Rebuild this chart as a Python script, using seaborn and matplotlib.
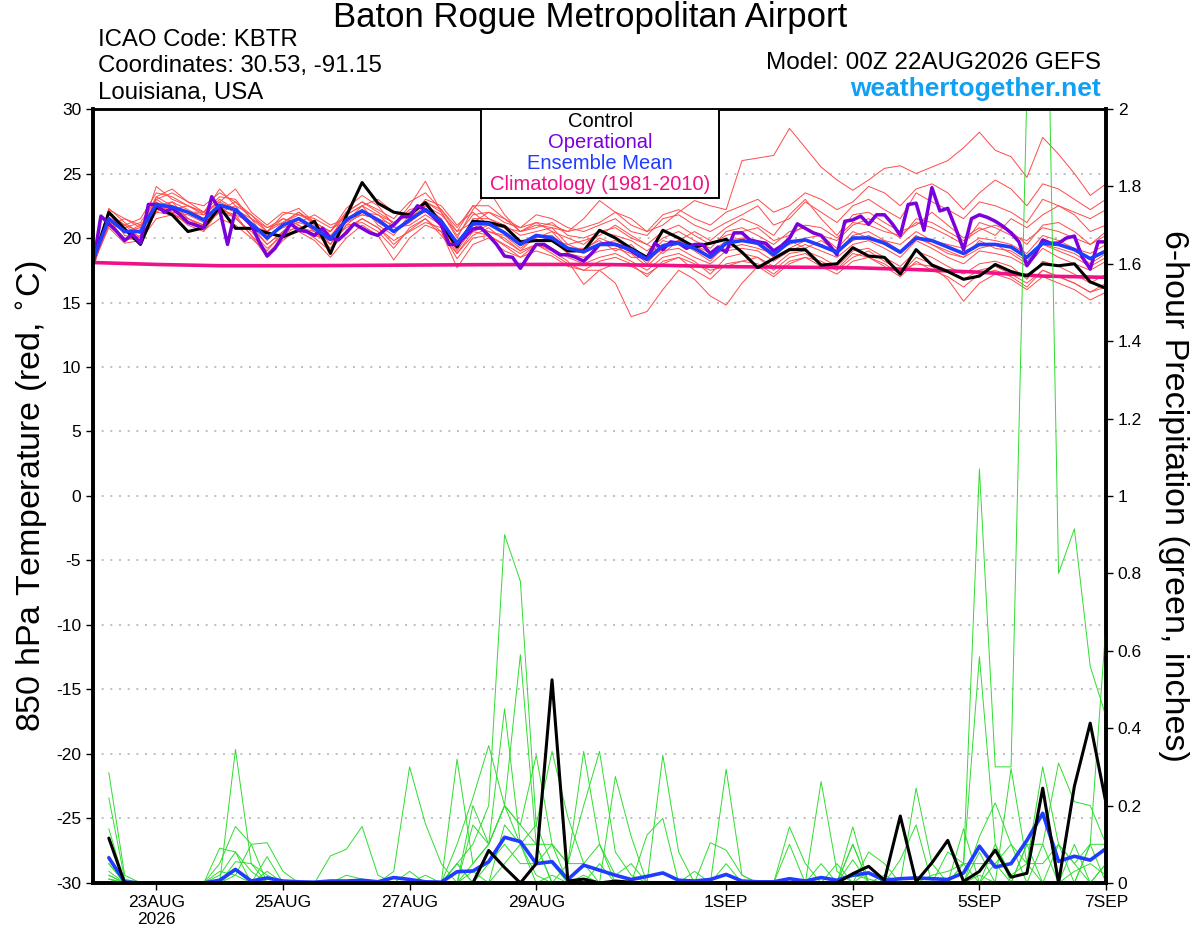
import numpy as np
import pandas as pd
import seaborn as sns
import matplotlib.pyplot as plt
from matplotlib.patches import Rectangle

sns.set_style('ticks')
plt.rcParams['font.family'] = ['Liberation Sans', 'DejaVu Sans']
plt.rcParams['axes.unicode_minus'] = False
for key in ('text.color', 'axes.labelcolor', 'xtick.color', 'ytick.color'):
    plt.rcParams[key] = 'black'

# time axes (6-hourly GEFS, 3-hourly operational, daily climatology)
times = pd.date_range('2026-08-22 00:00', periods=65, freq='6h')
times_op = pd.date_range('2026-08-22 00:00', periods=129, freq='3h')
days = pd.date_range('2026-08-22', periods=17, freq='D')

# 850 hPa temperature (C)
control_t = [18.2, 22.0, 20.7, 19.5, 22.4, 21.8, 20.5, 20.8, 22.4, 20.75,
             20.75, 20.4, 20.1, 20.6, 21.3, 18.8, 21.7, 24.3, 22.7, 22.0,
             21.8, 22.75, 21.1, 19.3, 21.3, 21.2, 20.9, 19.7, 19.8, 19.8,
             19.0, 19.0, 20.6, 20.0, 19.2, 18.5, 20.6, 20.0, 19.3, 19.6,
             19.9, 18.9, 17.7, 18.4, 19.1, 19.1, 17.9, 18.0, 19.25, 18.6,
             18.5, 17.2, 19.1, 17.9, 17.4, 16.8, 17.05, 17.95, 17.4, 17.05,
             18.0, 17.85, 18.0, 16.6, 16.1]
mean_t = [18.3, 21.5, 20.5, 20.5, 22.6, 22.4, 22.0, 21.4, 22.55, 22.2,
          21.1, 20.0, 21.0, 21.5, 20.75, 19.9, 21.4, 22.1, 21.4, 20.5,
          21.4, 22.2, 21.3, 19.6, 21.1, 21.1, 20.4, 19.5, 20.2, 20.0,
          19.2, 18.95, 19.5, 19.5, 19.1, 18.35, 19.4, 19.6, 19.2, 18.5,
          19.6, 19.8, 19.6, 18.7, 19.7, 19.85, 19.4, 18.9, 20.0, 20.0,
          19.6, 18.9, 20.0, 19.8, 19.3, 18.8, 19.5, 19.5, 19.3, 18.5,
          19.6, 19.5, 19.1, 18.4, 19.0]
oper_t = [17.9, 21.7, 21.1, 20.5, 19.8, 20.3, 19.6, 22.6, 22.6, 22.0, 22.3,
          21.8, 21.2, 21.0, 20.8, 23.2, 22.2, 19.5, 22.2, 21.6, 21.0, 19.7,
          18.6, 19.2, 20.2, 21.1, 20.6, 20.5, 20.2, 20.75, 20.0, 19.85, 20.4,
          21.1, 20.75, 20.4, 20.2, 20.7, 21.0, 21.65, 21.65, 22.5, 22.2, 21.65,
          21.0, 19.5, 19.5, 20.1, 20.7, 20.8, 20.2, 19.5, 18.6, 18.5, 17.65,
          18.6, 19.5, 19.5, 19.1, 18.7, 18.7, 18.5, 18.2, 18.8, 19.5,
          19.6, 19.5, 19.3, 19.0, 18.6, 18.35, 19.6, 19.1, 19.7, 19.6, 19.2,
          19.5, 19.5, 18.8, 19.3, 18.9, 20.4, 20.4, 19.85, 19.7, 19.6, 19.0,
          19.4, 19.97, 21.1, 20.75, 20.4, 20.2, 19.5, 18.7, 21.3, 21.4,
          21.7, 21.06, 21.8, 21.8, 21.1, 20.2, 22.6, 22.7, 20.6, 23.9, 22.1,
          22.3, 20.75, 19.1, 21.5, 21.8, 21.6, 21.3, 20.9, 20.4, 19.7, 17.85,
          18.7, 19.85, 19.6, 19.6, 20.0, 20.15, 18.5, 17.6, 19.7, 19.7]
clim_t = [18.1, 17.95, 17.85, 17.85, 17.87, 17.9, 17.93, 17.95, 17.95,
          17.88, 17.78, 17.74, 17.7, 17.55, 17.35, 17.05, 16.95]

t_m01 = [18.0, 21.0, 20.8, 21.2, 23.0, 23.5, 22.8, 22.0, 23.2, 23.0, 21.5,
         20.5, 21.8, 22.3, 21.2, 20.5, 22.0, 22.8, 22.0, 21.2, 22.0,
         22.8, 22.0, 20.2, 21.8, 22.0, 21.5, 20.8, 21.2, 21.0, 20.5,
         21.5, 22.9, 22.0, 21.0, 20.5, 21.0, 22.0, 22.9, 22.5, 22.2,
         26.0, 26.2, 26.4, 28.5, 27.0, 25.5, 24.5, 23.7, 24.5, 25.4,
         25.6, 25.0, 25.5, 26.0, 27.0, 28.2, 26.8, 26.3, 24.7, 27.8,
         26.5, 25.0, 23.3, 24.2]
t_m02 = [18.2, 21.2, 20.0, 19.8, 22.0, 22.8, 21.5, 21.0, 22.0, 21.6, 20.2,
         18.5, 19.8, 20.8, 20.0, 19.0, 20.6, 21.5, 20.8, 19.5, 20.6,
         21.5, 20.5, 18.4, 20.0, 20.2, 19.4, 18.5, 19.0, 18.6, 17.8,
         17.5, 17.5, 16.5, 13.9, 14.3, 16.0, 17.5, 16.8, 15.5, 14.8,
         16.5, 17.8, 17.0, 18.0, 18.5, 18.2, 17.6, 18.8, 18.5, 18.0,
         17.2, 18.5, 18.0, 17.5, 16.8, 17.5, 17.8, 17.2, 16.5, 17.5,
         17.0, 16.5, 15.8, 16.2]
t_m03 = [17.6, 22.3, 21.2, 20.3, 24.0, 23.0, 22.5, 22.0, 23.8, 22.5, 21.8,
         20.8, 21.5, 21.0, 20.2, 20.5, 22.3, 23.3, 22.5, 21.0, 22.5,
         24.4, 22.0, 20.0, 22.2, 23.7, 21.8, 20.5, 21.2, 20.5, 20.0,
         19.5, 20.5, 20.2, 19.8, 19.0, 20.0, 20.5, 19.8, 19.2, 20.5,
         20.8, 20.2, 19.5, 20.5, 20.8, 20.2, 19.8, 21.0, 21.5, 20.8,
         20.0, 21.5, 21.2, 20.5, 19.8, 20.6, 21.0, 20.5, 19.5, 21.0,
         21.2, 20.5, 19.5, 20.2]
t_m04 = [18.5, 21.8, 21.0, 21.5, 23.5, 23.2, 22.5, 21.8, 22.8, 23.8, 22.0,
         21.0, 22.0, 21.8, 21.5, 20.8, 21.2, 22.5, 23.0, 22.0, 21.5,
         23.0, 22.5, 21.0, 22.0, 21.0, 20.8, 20.5, 21.0, 20.8, 19.5,
         19.8, 20.2, 21.0, 20.2, 19.5, 18.8, 19.8, 20.5, 19.8, 20.8,
         21.5, 21.0, 20.2, 21.8, 23.0, 21.5, 20.2, 21.8, 22.0, 21.2,
         20.5, 21.0, 22.0, 21.0, 20.0, 20.8, 20.2, 21.5, 20.8, 21.8,
         22.5, 21.8, 20.5, 21.0]
t_m05 = [18.0, 20.8, 19.6, 19.8, 21.5, 21.8, 21.2, 20.6, 21.5, 21.0, 20.0,
         18.8, 20.0, 20.5, 19.8, 18.5, 20.0, 21.0, 20.2, 18.3, 20.0,
         21.0, 20.5, 17.7, 19.5, 20.0, 19.0, 18.5, 19.5, 19.0, 18.2,
         16.4, 17.5, 18.0, 17.8, 17.2, 18.0, 18.5, 18.0, 17.5, 17.8,
         18.2, 18.5, 17.5, 18.5, 18.8, 18.0, 17.5, 18.5, 19.0, 18.2,
         17.5, 18.0, 17.8, 16.8, 15.1, 16.5, 17.2, 16.8, 16.0, 17.0,
         16.5, 16.0, 15.2, 15.8]
t_m06 = [18.3, 21.5, 20.5, 20.8, 22.8, 22.0, 21.8, 21.2, 22.2, 22.8, 21.5,
         19.8, 21.2, 22.0, 21.0, 19.5, 21.8, 22.5, 21.0, 20.2, 21.8,
         22.0, 21.5, 19.2, 21.5, 21.5, 20.8, 19.8, 20.0, 20.5, 19.2,
         18.8, 19.5, 19.8, 19.2, 18.0, 19.5, 19.8, 19.0, 18.2, 19.5,
         19.8, 19.5, 18.5, 19.2, 19.8, 19.5, 18.8, 20.2, 20.5, 19.8,
         19.0, 20.2, 19.5, 19.0, 18.5, 19.8, 19.2, 19.0, 18.2, 19.5,
         19.2, 18.8, 18.0, 18.8]
t_m07 = [17.8, 21.0, 21.5, 21.0, 22.5, 22.8, 22.2, 21.5, 22.5, 22.0, 21.0,
         20.5, 21.5, 21.2, 21.8, 21.0, 21.5, 21.8, 21.5, 21.0, 22.2,
         22.5, 21.8, 20.5, 21.2, 22.0, 21.2, 20.8, 21.8, 21.5, 20.8,
         20.5, 21.0, 21.5, 20.5, 20.2, 21.5, 21.8, 21.0, 20.5, 21.2,
         21.8, 22.5, 21.0, 21.5, 22.8, 22.0, 21.2, 22.5, 23.0, 22.2,
         21.5, 23.5, 22.8, 22.2, 21.5, 22.8, 22.5, 22.0, 21.2, 23.0,
         22.5, 22.0, 21.5, 22.2]
t_m08 = [18.6, 22.0, 20.2, 20.0, 22.2, 22.5, 22.0, 21.8, 23.0, 22.2, 21.0,
         19.5, 20.5, 21.5, 20.5, 19.2, 21.0, 22.0, 21.8, 20.8, 21.0,
         21.8, 21.0, 19.0, 20.8, 20.5, 20.0, 19.0, 20.2, 19.8, 18.8,
         18.5, 19.0, 19.2, 18.8, 17.8, 19.0, 19.2, 18.5, 18.0, 19.0,
         19.2, 19.0, 18.2, 19.0, 19.5, 19.0, 18.5, 19.5, 19.8, 19.2,
         18.5, 19.8, 19.2, 18.5, 18.0, 19.0, 18.8, 18.5, 17.8, 19.2,
         18.5, 18.0, 17.5, 18.2]
t_m09 = [18.1, 21.2, 21.0, 20.5, 23.0, 22.2, 22.5, 22.0, 22.0, 21.8, 21.2,
         20.2, 20.8, 21.2, 20.8, 20.2, 21.5, 22.2, 21.2, 20.5, 21.2,
         22.2, 21.0, 19.8, 20.5, 21.0, 20.5, 19.5, 19.8, 19.8, 19.5,
         19.0, 20.0, 19.5, 18.5, 18.5, 19.8, 19.5, 19.5, 18.8, 19.8,
         20.0, 19.8, 19.0, 19.5, 20.0, 20.2, 19.2, 20.5, 20.0, 19.8,
         19.5, 20.5, 19.8, 19.5, 19.2, 20.0, 19.8, 19.5, 18.8, 20.2,
         19.8, 19.2, 18.8, 19.5]
t_m10 = [18.4, 21.5, 19.8, 20.2, 22.0, 21.8, 21.5, 20.8, 22.5, 21.5, 20.5,
         19.2, 20.2, 21.0, 20.2, 19.8, 20.8, 21.5, 20.8, 19.8, 20.5,
         21.2, 20.8, 18.8, 20.2, 20.8, 19.8, 19.0, 19.5, 19.2, 18.5,
         18.0, 18.5, 18.8, 18.2, 17.5, 18.5, 18.8, 18.2, 17.2, 18.5,
         18.8, 18.5, 17.8, 18.8, 19.0, 18.5, 17.8, 19.0, 19.2, 18.5,
         17.8, 19.0, 18.5, 17.8, 17.2, 18.0, 18.2, 17.8, 16.8, 18.2,
         17.8, 17.2, 16.5, 17.2]
t_m11 = [17.5, 22.0, 21.0, 20.0, 23.2, 23.8, 22.8, 22.5, 23.5, 22.8, 21.8,
         20.5, 21.2, 22.0, 21.2, 20.0, 22.0, 22.8, 22.2, 21.5, 22.8,
         23.5, 22.2, 20.5, 22.5, 22.5, 21.5, 20.5, 20.8, 21.2, 20.2,
         20.0, 20.5, 20.8, 20.0, 19.5, 20.5, 21.0, 20.2, 19.5, 20.2,
         20.5, 20.8, 19.8, 20.2, 21.0, 20.8, 20.0, 21.2, 21.0, 20.5,
         20.2, 21.2, 20.8, 20.2, 19.5, 21.2, 20.8, 20.2, 19.8, 20.8,
         20.5, 20.0, 19.5, 20.5]
t_m12 = [18.0, 21.6, 20.4, 21.0, 22.2, 22.5, 21.5, 21.0, 22.0, 22.5, 20.8,
         19.5, 20.5, 21.5, 20.5, 19.8, 21.2, 21.8, 21.5, 20.5, 21.5,
         22.5, 21.5, 19.5, 21.0, 20.5, 20.2, 19.2, 20.2, 20.2, 19.2,
         19.2, 19.8, 19.0, 19.5, 18.2, 19.2, 19.8, 19.5, 18.5, 19.2,
         19.5, 19.2, 18.8, 19.8, 19.2, 19.8, 19.0, 19.8, 20.2, 19.5,
         18.8, 20.0, 19.5, 18.8, 18.5, 19.2, 19.5, 18.8, 18.0, 19.5,
         19.0, 18.5, 17.8, 18.5]
t_m13 = [18.2, 22.2, 21.5, 20.8, 23.2, 22.5, 22.0, 22.0, 22.8, 22.2, 21.5,
         20.8, 21.2, 21.8, 21.2, 20.5, 21.8, 22.5, 21.8, 21.2, 21.8,
         22.8, 22.2, 20.8, 22.5, 21.5, 21.0, 20.2, 20.5, 20.8, 20.5,
         20.8, 21.2, 22.0, 21.5, 20.5, 21.8, 22.2, 21.5, 21.0, 22.0,
         22.5, 23.0, 22.0, 22.5, 23.5, 23.0, 22.2, 22.8, 24.0, 23.5,
         22.5, 23.8, 24.2, 23.5, 22.2, 23.5, 24.5, 23.8, 22.5, 24.2,
         23.8, 23.0, 22.2, 23.0]
t_m14 = [18.3, 21.4, 20.6, 19.8, 22.6, 22.0, 21.0, 20.5, 22.2, 21.8, 20.2,
         19.0, 20.5, 20.8, 20.5, 19.5, 21.0, 21.2, 20.5, 19.2, 20.8,
         21.5, 20.2, 18.8, 20.5, 20.2, 19.5, 18.8, 19.5, 18.8, 18.0,
         17.5, 18.2, 18.5, 18.0, 17.0, 18.2, 18.5, 17.5, 16.8, 18.0,
         18.2, 18.0, 17.2, 18.2, 18.5, 17.8, 17.2, 18.2, 18.5, 17.8,
         17.0, 18.2, 17.5, 17.0, 16.2, 17.2, 17.5, 17.0, 16.2, 17.5,
         17.0, 16.5, 15.8, 16.5]

# 6-hour precipitation (inches), valid 06Z 22AUG onwards
control_p = [0.116, 0, 0, 0, 0, 0, 0, 0, 0, 0, 0, 0, 0, 0, 0, 0,
             0, 0, 0, 0, 0, 0, 0, 0, 0.084, 0.04, 0, 0.05, 0.525, 0.005, 0.01, 0,
             0.005, 0.002, 0, 0, 0, 0, 0, 0, 0, 0, 0, 0, 0, 0, 0, 0.024,
             0.043, 0.007, 0.173, 0.003, 0.052, 0.11, 0.004, 0.03, 0.085, 0.015, 0.025, 0.245, 0, 0.25, 0.413, 0.206]
mean_p = [0.065, 0.003, 0, 0, 0, 0, 0, 0.007, 0.035, 0.005, 0.013, 0.005, 0.003, 0.002, 0.005, 0.005,
          0.007, 0.003, 0.014, 0.009, 0.003, 0.002, 0.029, 0.031, 0.055, 0.118, 0.107, 0.05, 0.055, 0.009, 0.046, 0.033,
          0.02, 0.009, 0.017, 0.026, 0.007, 0.005, 0.009, 0.022, 0.005, 0.003, 0.003, 0.011, 0.005, 0.014, 0.007, 0.02,
          0.026, 0.007, 0.011, 0.013, 0.011, 0.009, 0.026, 0.095, 0.041, 0.05, 0.11, 0.18, 0.056, 0.069, 0.059, 0.089]

p_m01 = [0.05, 0, 0, 0, 0, 0, 0, 0.02, 0.08, 0.03, 0, 0, 0, 0, 0, 0.02,
         0.01, 0, 0, 0, 0, 0, 0.05, 0.1, 0.2, 0.9, 0.78, 0.15, 0.05, 0, 0.02, 0,
         0, 0, 0, 0, 0, 0, 0, 0, 0, 0, 0, 0, 0, 0, 0, 0.02,
         0.01, 0, 0, 0, 0.02, 0.03, 0.05, 1.07, 0.3, 0.3, 2.05, 3.0, 0.8, 0.915, 0.56, 0.43]
p_m02 = [0.285, 0.02, 0, 0, 0, 0, 0, 0, 0.345, 0.05, 0.02, 0, 0, 0, 0, 0,
         0, 0, 0, 0.03, 0, 0, 0.32, 0.05, 0.1, 0.45, 0.1, 0.02, 0, 0.05, 0.2, 0.34,
         0.08, 0.02, 0, 0, 0, 0, 0, 0, 0, 0, 0, 0, 0, 0, 0, 0,
         0, 0, 0, 0, 0, 0, 0.05, 0.585, 0.1, 0.02, 0.05, 0.3, 0.1, 0.05, 0.1, 0.67]
p_m03 = [0.22, 0.01, 0, 0, 0, 0, 0, 0.05, 0.146, 0.1, 0.104, 0.03, 0, 0, 0, 0,
         0, 0, 0, 0, 0, 0, 0.1, 0.22, 0.355, 0.2, 0.59, 0.1, 0, 0, 0, 0,
         0, 0, 0, 0.33, 0.08, 0, 0, 0, 0, 0, 0, 0, 0, 0, 0, 0,
         0, 0, 0, 0.245, 0.05, 0, 0, 0.12, 0.207, 0.1, 0, 0.1, 0.31, 0.21, 0.2, 0.1]
p_m04 = [0.14, 0, 0, 0, 0, 0, 0, 0.09, 0.08, 0, 0.068, 0, 0, 0, 0.07, 0.087,
         0.146, 0.02, 0, 0, 0, 0, 0, 0.2, 0.1, 0.2, 0.15, 0.33, 0.1, 0, 0, 0,
         0.275, 0.12, 0, 0, 0, 0, 0, 0, 0, 0, 0, 0, 0, 0, 0, 0,
         0, 0, 0, 0, 0, 0, 0, 0.08, 0, 0.296, 0.05, 0, 0, 0, 0, 0.05]
p_m05 = [0.07, 0, 0, 0, 0, 0, 0, 0, 0.055, 0.05, 0, 0, 0, 0, 0, 0,
         0, 0, 0.03, 0.3, 0.153, 0.05, 0, 0.15, 0.1, 0.2, 0.1, 0.15, 0.34, 0.17, 0.05, 0.1,
         0, 0, 0.124, 0.167, 0, 0, 0.104, 0.085, 0.02, 0, 0, 0, 0, 0, 0, 0,
         0, 0, 0, 0, 0, 0, 0.14, 0, 0, 0, 0, 0, 0, 0, 0, 0]
p_m06 = [0.05, 0, 0, 0, 0, 0, 0, 0, 0.033, 0, 0, 0, 0, 0, 0, 0,
         0, 0, 0, 0, 0, 0, 0, 0, 0, 0.15, 0.1, 0.1, 0.1, 0.05, 0.34, 0.1,
         0.02, 0.05, 0, 0, 0, 0.03, 0, 0.294, 0.02, 0, 0, 0.145, 0.05, 0, 0, 0,
         0.08, 0.05, 0, 0, 0, 0, 0, 0, 0, 0, 0, 0, 0, 0.1, 0, 0]
p_m07 = [0.03, 0, 0, 0, 0, 0, 0, 0, 0, 0, 0, 0, 0, 0, 0, 0,
         0, 0, 0, 0, 0, 0, 0.05, 0, 0, 0, 0, 0, 0, 0, 0, 0,
         0, 0, 0, 0, 0, 0, 0, 0, 0, 0, 0, 0, 0, 0.262, 0.03, 0,
         0, 0, 0, 0, 0, 0, 0, 0, 0, 0, 0.1, 0.1, 0, 0, 0, 0]
p_m08 = [0.02, 0, 0, 0, 0, 0, 0, 0, 0, 0, 0, 0, 0, 0, 0, 0,
         0, 0, 0, 0, 0, 0, 0, 0, 0, 0, 0, 0, 0, 0, 0, 0,
         0, 0, 0, 0, 0, 0, 0, 0, 0, 0, 0, 0.1, 0, 0, 0, 0.145,
         0, 0, 0.06, 0.15, 0, 0.08, 0.05, 0, 0.1, 0, 0, 0, 0, 0, 0.1, 0]
p_m09 = [0.01, 0, 0, 0, 0, 0, 0, 0, 0, 0, 0, 0, 0, 0, 0, 0,
         0, 0, 0, 0, 0, 0, 0, 0.05, 0.1, 0.2, 0.15, 0.1, 0, 0, 0, 0,
         0, 0, 0, 0, 0, 0, 0, 0, 0, 0, 0, 0, 0, 0.05, 0, 0.1,
         0, 0, 0, 0, 0, 0, 0.05, 0.05, 0.05, 0.1, 0.05, 0.05, 0.1, 0, 0.1, 0.1]
p_m10 = [0.02, 0, 0, 0, 0, 0, 0, 0, 0, 0, 0, 0, 0, 0, 0, 0,
         0, 0, 0, 0, 0, 0, 0, 0, 0, 0, 0, 0, 0, 0, 0, 0,
         0, 0, 0, 0, 0, 0, 0, 0, 0, 0, 0, 0, 0, 0, 0, 0.06,
         0, 0, 0, 0, 0, 0, 0, 0, 0, 0, 0.1, 0, 0, 0, 0, 0]
p_m11 = [0.01, 0, 0, 0, 0, 0, 0, 0.03, 0.02, 0.1, 0, 0, 0, 0, 0, 0,
         0, 0, 0, 0, 0.02, 0, 0.05, 0, 0.05, 0.1, 0.05, 0.05, 0.1, 0.05, 0.05, 0,
         0, 0, 0, 0, 0, 0, 0, 0.05, 0, 0, 0, 0, 0, 0, 0, 0.1,
         0, 0.02, 0, 0, 0, 0, 0, 0, 0.05, 0, 0, 0, 0.1, 0.05, 0, 0.05]
p_m12 = [0.01, 0, 0, 0, 0, 0, 0, 0, 0.02, 0, 0.03, 0, 0, 0, 0, 0,
         0, 0, 0, 0, 0, 0, 0, 0.03, 0, 0.05, 0.1, 0, 0.02, 0, 0, 0.05,
         0, 0, 0, 0, 0, 0, 0, 0, 0, 0, 0, 0, 0, 0, 0.05, 0,
         0.03, 0, 0, 0, 0, 0, 0, 0.02, 0, 0, 0, 0, 0, 0.03, 0.05, 0.02]

tick_dates = ['2026-08-23', '2026-08-25', '2026-08-27', '2026-08-29',
              '2026-09-01', '2026-09-03', '2026-09-05', '2026-09-07']
tick_labels = ['23AUG\n2026', '25AUG', '27AUG', '29AUG', '1SEP', '3SEP', '5SEP', '7SEP']

RED = '#ff4a4a'
GREEN = '#2fdc2f'
PURPLE = '#7a00dc'
BLUE = '#1f3cff'
PINK = '#ef1185'

temp_members = [t_m01, t_m02, t_m03, t_m04, t_m05, t_m06, t_m07,
                t_m08, t_m09, t_m10, t_m11, t_m12, t_m13, t_m14]
precip_members = [p_m01, p_m02, p_m03, p_m04, p_m05, p_m06,
                  p_m07, p_m08, p_m09, p_m10, p_m11, p_m12]

df_tm = pd.concat([pd.DataFrame({'time': times, 'temp': v, 'member': k})
                   for k, v in enumerate(temp_members)], ignore_index=True)
df_pm = pd.concat([pd.DataFrame({'time': times[1:], 'precip': v, 'member': k})
                   for k, v in enumerate(precip_members)], ignore_index=True)

fig = plt.figure(figsize=(12, 9.27), dpi=100)
ax = fig.add_axes([0.0775, 0.0475, 0.8442, 0.8349])

# temperature
sns.lineplot(data=df_tm, x='time', y='temp', units='member', estimator=None,
             color=RED, lw=0.7, ax=ax, legend=False)
sns.lineplot(x=days, y=clim_t, color=PINK, lw=2.6, ax=ax)
sns.lineplot(x=times, y=control_t, color='black', lw=2.2, ax=ax)
sns.lineplot(x=times_op, y=oper_t, color=PURPLE, lw=2.5, ax=ax)
sns.lineplot(x=times, y=mean_t, color=BLUE, lw=2.6, ax=ax)

ax.set_xlim(times[0], times[-1])
ax.set_ylim(-30, 30)
ax.set_yticks(range(-30, 31, 5))
ax.grid(axis='y', color='#b4b4b4', linestyle=(0, (1.2, 4)), linewidth=1.2)
ax.set_xticks(pd.to_datetime(tick_dates))
ax.set_xticklabels(tick_labels, linespacing=1.15)
ax.tick_params(axis='both', direction='out', length=5, width=1, labelsize=12.5)
ax.set_xlabel('')
ax.set_ylabel('')

# precipitation
ax2 = ax.twinx()
sns.lineplot(data=df_pm, x='time', y='precip', units='member', estimator=None,
             color=GREEN, lw=0.7, ax=ax2, legend=False)
sns.lineplot(x=times[1:], y=mean_p, color=BLUE, lw=2.6, ax=ax2)
sns.lineplot(x=times[1:], y=control_p, color='black', lw=2.2, ax=ax2)
ax2.set_xlim(times[0], times[-1])
ax2.set_ylim(0, 2)
ax2.set_yticks(np.arange(0, 2.01, 0.2))
ax2.set_yticklabels(['%g' % v for v in np.arange(0, 2.01, 0.2).round(1)])
ax2.tick_params(axis='y', direction='out', length=5, width=1, labelsize=12.5)
ax2.set_ylabel('')

for a in (ax, ax2):
    for side in ('left', 'right', 'bottom'):
        a.spines[side].set_linewidth(2.6)
    a.spines['top'].set_linewidth(1.8)
    for s in a.spines.values():
        s.set_color('black')

# legend box
ax2.add_patch(Rectangle((0.383, 0.885), 0.235, 0.115, transform=ax2.transAxes,
                        facecolor='white', edgecolor='black', lw=1.4, zorder=10))
leg_items = [('Control', 'black', 0.9845), ('Operational', PURPLE, 0.957),
             ('Ensemble Mean', BLUE, 0.930), ('Climatology (1981-2010)', PINK, 0.902)]
for txt, col, yy in leg_items:
    ax2.text(0.5005, yy, txt, color=col, fontsize=14.5, ha='center', va='center',
             transform=ax2.transAxes, zorder=11)

# header text
fig.text(590 / 1200, 1 - 18 / 927, 'Baton Rogue Metropolitan Airport',
         ha='center', va='center', fontsize=25)
fig.text(98 / 1200, 1 - 40 / 927, 'ICAO Code: KBTR', ha='left', va='center', fontsize=17.3)
fig.text(98 / 1200, 1 - 66 / 927, 'Coordinates: 30.53, -91.15', ha='left', va='center', fontsize=17.3)
fig.text(98 / 1200, 1 - 93 / 927, 'Louisiana, USA', ha='left', va='center', fontsize=17.3)
fig.text(1101 / 1200, 1 - 63 / 927, 'Model: 00Z 22AUG2026 GEFS', ha='right', va='center', fontsize=17.5)
fig.text(1101 / 1200, 1 - 89 / 927, 'weathertogether.net', ha='right', va='center',
         fontsize=19, fontweight='bold', color='#12a0f2')

fig.text(33 / 1200, 1 - 496 / 927, '850 hPa Temperature (red, $^{\\circ}$C)',
         rotation=90, ha='center', va='center', fontsize=24.5)
fig.text(1174 / 1200, 1 - 496 / 927, '6-hour Precipitation (green, inches)',
         rotation=270, ha='center', va='center', fontsize=24.5)

fig.savefig('out.png', dpi=100)
